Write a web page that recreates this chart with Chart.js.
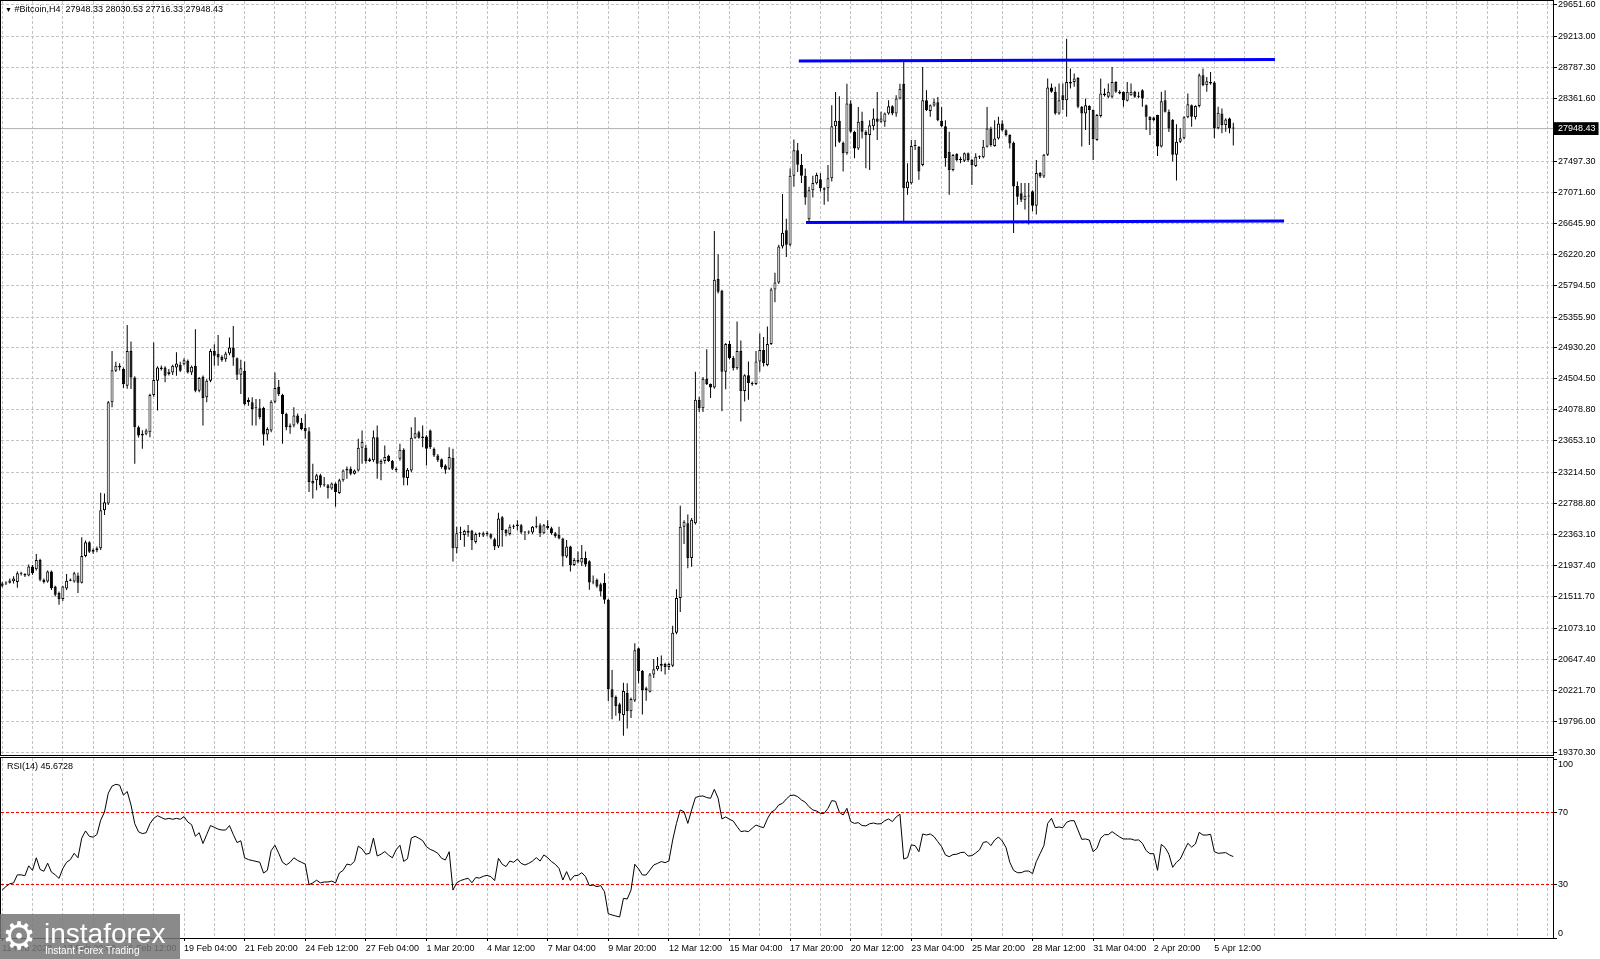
<!DOCTYPE html>
<html lang="en">
<head>
<meta charset="utf-8">
<title>#Bitcoin,H4</title>
<script src="https://cdn.jsdelivr.net/npm/chart.js@4.4.1/dist/chart.umd.min.js"></script>
<style>
    html, body { margin: 0; padding: 0; background: #fff; }
    body { position: relative; width: 1600px; height: 959px; overflow: hidden; font-family: 'Liberation Sans', Arial, sans-serif; }
    canvas { position: absolute; left: 0; }
    #priceChart { top: 0; }
    #rsiChart { top: 745px; }
    .pane-label { position: absolute; font-size: 9px; line-height: 10px; color: #000; white-space: pre; }
    .pane-label .arrow { font-size: 7px; }
    #symbolLabel { left: 5px; top: 4px; }
    #rsiLabel { left: 7px; top: 761px; }
    .logo { position: absolute; left: 0; top: 914px; width: 180px; height: 45px; background: rgba(118, 118, 118, 0.85); color: #fff; }
    .logo .gear { position: absolute; left: 2px; top: 0; font-family: 'DejaVu Sans', sans-serif; font-size: 38px; line-height: 45px; }
    .logo .name { position: absolute; left: 44px; top: 6px; font-size: 28px; line-height: 28px; }
    .logo .slogan { position: absolute; left: 45px; top: 32px; font-size: 10px; line-height: 10px; }
</style>
</head>
<body>
<canvas id="priceChart" width="1600" height="757"></canvas>
<canvas id="rsiChart" width="1600" height="214"></canvas>
<div id="symbolLabel" class="pane-label"></div>
<div id="rsiLabel" class="pane-label"></div>
<div class="logo"><span class="gear">⚙</span><span class="name">instaforex</span><span class="slogan">Instant Forex Trading</span></div>
<script>
const symbolName = '#Bitcoin,H4';

// H4 candles, first bar = 11 Feb 04:00
const openPrices = [
    21660,21690,21700,21720,21710,21830,21820,21800,21923,21886,
    22014,21740,21718,21855,21650,21560,21476,21620,21727,21718,
    21800,21700,22069,22256,22128,22150,22174,22699,22790,24183,
    24616,24685,24640,24411,24890,24525,23840,23726,23749,23772,
    24283,24479,24640,24662,24571,24594,24662,24700,24708,24753,
    24594,24685,24342,24534,24251,24479,24890,24850,24808,24776,
    24854,24936,24790,24561,24616,24215,24183,24100,24100,24105,
    23740,23795,24192,24397,24288,24023,23840,23863,24000,23900,
    23830,23785,23100,23110,23178,23050,23041,22996,23064,22936,
    23110,23246,23270,23200,23246,23557,23557,23374,23384,23703,
    23338,23375,23447,23374,23270,23406,23530,23141,23246,23694,
    23772,23690,23712,23795,23543,23452,23400,23315,23270,23420,
    22174,22380,22357,22389,22415,22260,22366,22350,22380,22366,
    22300,22200,22600,22425,22370,22470,22480,22490,22390,22390,
    22390,22470,22490,22380,22480,22450,22380,22360,22310,22060,
    22200,21946,22014,21980,22040,21996,21705,21740,21680,21700,
    21466,20234,20130,20030,19880,20183,19934,20080,20800,20485,
    20222,20200,20437,20509,20557,20581,20540,20557,21011,21490,
    22471,22520,22040,22520,24219,24100,24506,24434,24386,25880,
    25717,24602,24985,24793,24650,24889,24338,24554,24450,24434,
    24745,24903,24697,24985,25736,25832,26325,26550,26350,27300,
    27650,27450,27300,26700,27100,27197,27252,27129,27129,27265,
    27982,28055,27754,27608,28293,27905,27676,28055,27905,27859,
    27982,28087,28042,28042,28156,28256,28156,28361,28567,27129,
    27197,27708,27699,27448,28338,28192,28265,28311,28055,27982,
    27631,27380,27599,27517,27507,27608,27517,27434,27562,27553,
    27699,27950,27708,27813,28019,27927,27859,27754,27160,27060,
    26970,27025,27085,26888,27336,27290,27587,28513,28454,28157,
    28408,28340,28591,28591,28646,28249,28157,28258,28203,27792,
    28121,28431,28386,28386,28591,28454,28454,28331,28408,28454,
    28386,28477,28271,28112,28100,28134,27701,28340,28180,28066,
    27587,27769,27815,28103,28271,28103,28258,28682,28545,28568,
    28582,27952,28157,27998,28089,27948.33
];
const highPrices = [
    21710,21720,21760,21790,21855,21850,21830,21950,21946,22097,
    22030,21760,21870,21870,21660,21580,21660,21820,21760,21850,
    21840,22325,22280,22270,22170,22200,22940,22927,24200,24890,
    24740,24720,24660,25246,25018,24540,23860,23800,23820,24300,
    25004,24680,24690,24680,24640,24700,24870,24740,24790,24770,
    24690,25187,24530,24550,24500,24920,24980,25109,24830,24880,
    25073,25232,24800,24767,24744,24250,24251,24228,24228,24120,
    23840,24210,24594,24489,24300,24040,23890,24114,24030,23968,
    24023,23840,23338,23200,23200,23155,23060,23080,23080,23130,
    23260,23300,23300,23260,23680,23794,23600,23420,23794,23863,
    23400,23588,23460,23390,23290,23612,23550,23280,23840,23977,
    23790,23863,23730,23810,23560,23470,23410,23330,23566,23543,
    22471,22471,22430,22494,22430,22390,22390,22403,22410,22380,
    22320,22662,22620,22440,22500,22500,22560,22510,22410,22420,
    22480,22610,22520,22510,22560,22470,22400,22470,22320,22290,
    22210,22040,22130,22220,22130,22010,21800,21760,21700,21832,
    21480,20500,20150,20050,20325,20317,20120,20868,20810,20500,
    20270,20460,20652,20677,20700,20600,20600,21107,21610,22759,
    22560,22640,22590,24602,24260,24530,24913,24440,26540,26220,
    25730,25000,25030,24820,25296,25033,24570,24745,24470,24889,
    25128,25080,25224,25760,25966,26350,27050,26708,27400,27800,
    27750,27600,27400,27150,27300,27340,27334,27140,27448,28270,
    28452,28393,27770,28567,28338,27920,28247,28179,27927,28064,
    28224,28452,28179,28170,28338,28270,28407,28567,28863,27471,
    27791,27791,27710,28795,28475,28280,28361,28384,28247,28064,
    27905,27600,27610,27560,27620,27620,27530,27608,27580,27791,
    28247,27973,28064,28110,28064,27940,27870,27770,27220,27200,
    27199,27199,27100,27518,27350,27600,28637,28568,28523,28568,
    28568,29185,28774,28705,28660,28260,28363,28271,28210,28150,
    28637,28500,28568,28796,28600,28477,28460,28591,28568,28470,
    28454,28490,28280,28120,28110,28140,28454,28477,28210,28080,
    28007,27952,28120,28431,28280,28270,28705,28774,28660,28728,
    28600,28249,28226,28090,28100,28030.53
];
const lowPrices = [
    21640,21670,21690,21690,21630,21800,21780,21790,21810,21870,
    21720,21690,21700,21600,21510,21398,21450,21600,21720,21700,
    21560,21690,22050,22110,22100,22120,22150,22631,22770,24114,
    24600,24620,24380,24370,24365,23338,23700,23543,23730,23703,
    24260,24069,24620,24457,24550,24560,24548,24600,24690,24580,
    24560,24320,24320,23863,24183,24460,24685,24685,24740,24740,
    24830,24685,24489,24297,24140,24137,23863,23863,23950,23590,
    23658,23772,24170,24270,23612,23800,23749,23840,23880,23800,
    23680,22950,22859,22973,23010,23020,22859,22980,22745,22920,
    23090,23130,23180,23190,23230,23338,23340,23360,23360,23132,
    23110,23338,23360,23250,23220,23380,23040,23040,23220,23680,
    23680,23566,23315,23540,23430,23360,23270,23200,23250,21992,
    22106,22288,22197,22334,22151,22240,22330,22330,22340,22300,
    22151,22180,22197,22340,22350,22440,22420,22370,22288,22370,
    22370,22450,22330,22370,22430,22360,22320,22300,21923,22040,
    21855,21930,21970,21930,21920,21603,21680,21630,21510,21412,
    20074,19823,19869,19800,19595,19695,19840,20060,20317,19887,
    20078,20190,20390,20490,20480,20437,20500,20540,20990,21298,
    22232,21900,21920,22500,24050,24051,24420,24243,24370,25680,
    24061,24362,24770,24620,24630,23917,24195,24219,24410,24420,
    24602,24674,24680,24970,25559,25810,26300,26181,26330,27150,
    27350,27200,26900,26650,27000,27180,27083,26900,26946,27220,
    27699,27750,27357,27590,27890,27539,27654,27813,27402,27380,
    27927,27791,28030,27973,28140,28133,28110,28350,26672,27037,
    27180,27654,27243,27430,28190,28110,28250,28050,27970,27425,
    27037,27360,27500,27470,27490,27494,27174,27420,27530,27540,
    27690,27700,27700,27800,27910,27840,27676,26512,26900,26940,
    26834,26628,26811,26765,27270,27270,27570,28440,28140,28140,
    28203,28112,28500,28523,28230,27701,27929,27724,27518,27780,
    28100,28390,28370,28370,28440,28420,28249,28320,28400,28370,
    28370,28249,27929,27861,28050,27573,27690,28170,27900,27495,
    27235,27750,27800,28090,27975,28075,28240,28530,28454,28550,
    27815,27940,27884,27906,27884,27716.33
];
const closePrices = [
    21690,21700,21730,21760,21830,21823,21800,21923,21830,22014,
    21740,21710,21855,21626,21535,21476,21649,21727,21745,21832,
    21700,22069,22256,22128,22150,22174,22699,22809,24183,24625,
    24685,24660,24434,24890,24525,23840,23726,23749,23795,24283,
    24488,24662,24662,24548,24603,24685,24717,24616,24762,24594,
    24671,24342,24516,24242,24479,24890,24822,24799,24762,24854,
    24936,24799,24561,24653,24160,24183,24091,24110,23977,23740,
    23817,24192,24379,24297,24023,23840,23863,24000,23900,23817,
    23785,23087,23064,23178,23041,23041,23000,23064,22950,23110,
    23246,23270,23200,23246,23557,23635,23374,23400,23703,23338,
    23375,23429,23374,23270,23250,23530,23146,23256,23694,23758,
    23694,23712,23543,23566,23452,23384,23292,23256,23430,22174,
    22380,22385,22411,22415,22288,22370,22372,22380,22370,22320,
    22200,22585,22425,22380,22470,22480,22500,22390,22395,22400,
    22470,22480,22380,22490,22450,22380,22340,22310,22060,22200,
    21946,22014,21990,22040,21950,21705,21712,21650,21580,21466,
    20234,20120,20005,19900,20211,19934,20100,20772,20485,20222,
    20250,20437,20509,20557,20581,20540,20581,21011,21490,22471,
    22540,22040,22567,24219,24100,24506,24434,24386,25870,25703,
    24602,24985,24793,24650,24889,24338,24554,24450,24430,24745,
    24903,24721,24985,25736,25832,26325,26517,26350,27300,27650,
    27450,27300,27000,27100,27200,27311,27129,27106,27265,27982,
    28055,27768,27608,28293,27905,27676,28042,27905,27860,27996,
    28087,28042,28087,28156,28256,28156,28361,28498,27129,27220,
    27708,27722,27357,28338,28201,28270,28311,28064,27982,27539,
    27380,27585,27517,27525,27608,27517,27448,27562,27553,27699,
    27950,27722,27813,28019,27927,27859,27745,27151,27010,26970,
    27025,27013,26888,27336,27290,27587,28513,28454,28157,28340,
    28340,28591,28568,28637,28249,28157,28271,28203,27801,28134,
    28431,28408,28454,28591,28454,28431,28340,28454,28454,28386,
    28395,28363,28112,28066,28066,27701,28326,28180,27950,27587,
    27769,27815,28103,28285,28112,28258,28682,28545,28600,28591,
    27952,28166,27998,28075,27952,27948.43
];
// RSI(14) per bar
const rsiValues = [
    27,29,30.5,31,35.5,35.5,35,40.5,38,45,
    38.5,37.5,42,37,35.5,33.5,39,42.5,44,47.5,
    45,56,60,57,56.5,58,66,70.5,81,85,
    86,85.5,80,82,74.5,64,59.5,58.5,59,64,
    67,68.5,67.5,66.5,67,66.5,67,66.5,68,65,
    63.5,57,59,53,58,63,62,61,60.5,60.5,
    63,58,53.5,54.5,45,44,43.5,43,42.5,36.5,
    38,49,52,47.5,42.5,41,42.5,45,43.5,42.5,
    41.5,30,31,32.5,31,31.5,31.5,32,31,36.5,
    38,41.5,41,43,51.5,50,47,47.5,56,46,
    47,48.5,46.5,45,49.5,52,43,44.5,56,57,
    55.9,54.6,51.2,49.7,48.8,47.5,44.7,43.8,48.4,27.0,
    31.1,32.3,33.0,33.6,31.1,34.0,33.7,34.7,35.2,34.5,
    32.3,44.7,41.4,40.1,43.2,42.5,44.3,41.9,41.0,41.9,
    43.2,45.1,43.2,46.6,45.1,42.9,41.4,39.1,32.6,37.3,
    32.4,35.0,35.2,36.7,34.5,29.5,29.8,28.9,29.5,26.1,
    13.8,13.1,12.5,12.0,22.4,22.0,27.0,41.4,38.8,35.4,
    35.4,38.2,41.0,41.9,42.9,42.3,43.2,54.9,64.2,71.7,
    70.7,64.2,71.7,78.6,79.3,79.5,78.6,78.2,83.2,78.2,
    66.7,67.8,66.5,65.5,62.4,59.6,60.0,59.6,61.5,63.3,
    62.4,61.8,66.7,70.4,71.7,74.5,75.4,77.8,79.7,80.0,
    79.1,77.3,76.0,73.5,71.7,71.1,69.8,69.8,72.6,76.9,
    76.5,70.4,68.9,72.6,65.2,64.2,64.6,63.0,62.8,64.0,
    64.4,63.9,64.0,65.7,66.7,65.2,67.8,69.3,44.3,45.1,
    52.2,51.8,48.4,58.3,57.7,58.3,56.8,54.0,51.2,46.6,
    45.6,46.8,47.0,47.9,48.1,46.0,46.2,47.7,49.4,53.6,
    54.0,51.8,54.9,56.6,54.4,50.7,42.5,38.0,36.7,36.7,
    37.6,37.6,36.2,42.9,47.3,51.8,64.2,67.0,61.8,62.2,
    61.8,64.8,65.7,65.7,60.5,55.3,55.5,54.9,48.4,50.3,
    55.9,57.9,57.9,59.6,58.1,56.6,55.5,55.5,55.5,54.8,
    55.0,53.1,49.0,47.3,47.3,38.0,52.5,50.7,47.0,39.7,
    42.5,44.3,48.8,53.1,51.0,52.7,59.2,57.7,57.7,58.1,
    48.4,47.5,47.7,47.9,46.6,45.6728
];

const priceTicks = [29651.60, 29213.00, 28787.30, 28361.60, 27497.30, 27071.60, 26645.90, 26220.20,
    25794.50, 25355.90, 24930.20, 24504.50, 24078.80, 23653.10, 23214.50, 22788.80, 22363.10,
    21937.40, 21511.70, 21073.10, 20647.40, 20221.70, 19796.00, 19370.30];
const rsiLevels = [100, 70, 30, 0];
const timeTickIndex = [0, 16, 32, 48, 64, 80, 96, 112, 128, 144, 160, 176, 192, 208, 224, 240, 256, 272, 288, 304, 320];
const timeTickLabels = ['11 Feb 2023', '13 Feb 20:00', '16 Feb 12:00', '19 Feb 04:00', '21 Feb 20:00', '24 Feb 12:00',
    '27 Feb 04:00', '1 Mar 20:00', '4 Mar 12:00', '7 Mar 04:00', '9 Mar 20:00', '12 Mar 12:00', '15 Mar 04:00',
    '17 Mar 20:00', '20 Mar 12:00', '23 Mar 04:00', '25 Mar 20:00', '28 Mar 12:00', '31 Mar 04:00', '2 Apr 20:00', '5 Apr 12:00'];

// hand drawn channel (bar index, price)
const channelTopX = [210.3, 336.0];
const channelTopY = [28880, 28898];
const channelBottomX = [212.2, 338.4];
const channelBottomY = [26658, 26678];

// visible window of the terminal
const X_MIN = -0.317, X_MAX = 409.4;
const PRICE_MIN = 19330.4, PRICE_MAX = 29703.9;
const RSI_MIN = 0.26, RSI_MAX = 100.68;

Chart.defaults.font.family = "'Liberation Sans', Arial, sans-serif";
Chart.defaults.font.size = 9;
Chart.defaults.color = '#000';

const last = closePrices.length - 1;
const bid = closePrices[last];

document.getElementById('symbolLabel').innerHTML = '<span class="arrow">▼</span> ' + symbolName + '  ' +
    [openPrices[last], highPrices[last], lowPrices[last], closePrices[last]].map(v => v.toFixed(2)).join(' ');
document.getElementById('rsiLabel').textContent = 'RSI(14) ' + rsiValues[last].toFixed(4);

const gridIndex = [];
for (let v = 0; v <= X_MAX; v += 8) gridIndex.push(v);

const wickData = highPrices.map((h, i) => ({ x: i, y: [lowPrices[i], h] }));
const bodyData = openPrices.map((o, i) => ({ x: i, y: [o, closePrices[i]] }));
const bodyColors = openPrices.map((o, i) => closePrices[i] >= o ? '#ffffff' : '#000000');
const toPoints = (xs, ys) => xs.map((x, i) => ({ x: x, y: ys[i] }));

// keep the plot area fixed, labels may overhang
const noPadding = axis => {
    axis.paddingTop = 0;
    axis.paddingBottom = 0;
    axis.paddingLeft = 0;
    axis.paddingRight = 0;
};

// black frame around each pane
const paneFrame = {
    id: 'paneFrame',
    afterDraw(chart) {
        const a = chart.chartArea;
        const ctx = chart.ctx;
        ctx.save();
        ctx.strokeStyle = '#000';
        ctx.lineWidth = 1;
        ctx.strokeRect(a.left - 0.5, a.top - 0.5, a.right - a.left + 1, a.bottom - a.top + 1);
        ctx.restore();
    }
};

const gridColor = '#c4c4c4';

new Chart(document.getElementById('priceChart'), {
    type: 'bar',
    data: {
        datasets: [
            {
                type: 'line',
                data: [{ x: X_MIN, y: bid }, { x: X_MAX, y: bid }],
                borderColor: '#b0b0b0',
                borderWidth: 1,
                pointRadius: 0,
                order: 4
            },
            {
                data: wickData,
                backgroundColor: '#000',
                barThickness: 1,
                grouped: false,
                inflateAmount: 0,
                order: 3
            },
            {
                data: bodyData,
                backgroundColor: bodyColors,
                borderColor: '#000',
                borderWidth: 1,
                borderSkipped: false,
                barThickness: 3,
                minBarLength: 1,
                grouped: false,
                inflateAmount: 0,
                order: 2
            },
            {
                type: 'line',
                data: toPoints(channelTopX, channelTopY),
                borderColor: '#0000ff',
                borderWidth: 3,
                pointRadius: 0,
                order: 1
            },
            {
                type: 'line',
                data: toPoints(channelBottomX, channelBottomY),
                borderColor: '#0000ff',
                borderWidth: 3,
                pointRadius: 0,
                order: 1
            }
        ]
    },
    options: {
        responsive: false,
        animation: false,
        devicePixelRatio: 1,
        events: [],
        layout: { padding: { left: 1, top: 1, right: 0, bottom: 2 } },
        plugins: { legend: { display: false }, tooltip: { enabled: false } },
        scales: {
            x: {
                type: 'linear',
                min: X_MIN,
                max: X_MAX,
                offset: false,
                grid: { offset: false, color: gridColor, drawTicks: false },
                border: { display: false, dash: [3, 2] },
                ticks: { display: false },
                afterBuildTicks: axis => { axis.ticks = gridIndex.map(v => ({ value: v })); },
                afterFit: axis => { axis.height = 0; noPadding(axis); }
            },
            y: {
                type: 'linear',
                position: 'right',
                min: PRICE_MIN,
                max: PRICE_MAX,
                grid: {
                    color: ctx => ctx.tick && ctx.tick.value === bid ? 'rgba(0,0,0,0)' : gridColor,
                    tickLength: 4,
                    tickColor: '#000',
                    tickBorderDash: []
                },
                border: { display: true, color: '#000', width: 1, dash: [3, 2] },
                ticks: {
                    autoSkip: false,
                    padding: 1,
                    color: ctx => ctx.tick && ctx.tick.value === bid ? '#fff' : '#000',
                    showLabelBackdrop: ctx => !!(ctx.tick && ctx.tick.value === bid),
                    backdropColor: '#000',
                    backdropPadding: { top: 1, bottom: 1, left: 4, right: 3 },
                    callback: v => Number(v).toFixed(2)
                },
                afterBuildTicks: axis => { axis.ticks = priceTicks.concat([bid]).map(v => ({ value: v })); },
                afterFit: axis => { axis.width = 47; noPadding(axis); }
            }
        }
    },
    plugins: [paneFrame]
});

new Chart(document.getElementById('rsiChart'), {
    type: 'line',
    data: {
        datasets: [{
            data: rsiValues.map((v, i) => ({ x: i, y: v })),
            borderColor: '#000',
            borderWidth: 1,
            pointRadius: 0,
            tension: 0
        }]
    },
    options: {
        responsive: false,
        animation: false,
        devicePixelRatio: 1,
        events: [],
        layout: { padding: { left: 1, top: 13, right: 0, bottom: 0 } },
        plugins: { legend: { display: false }, tooltip: { enabled: false } },
        scales: {
            x: {
                type: 'linear',
                min: X_MIN,
                max: X_MAX,
                offset: false,
                grid: {
                    offset: false,
                    color: gridColor,
                    tickLength: 3,
                    tickColor: ctx => ctx.tick && timeTickIndex.includes(ctx.tick.value) ? '#000' : 'rgba(0,0,0,0)',
                    tickBorderDash: []
                },
                border: { display: true, color: '#000', width: 1, dash: [3, 2] },
                ticks: {
                    autoSkip: false,
                    maxRotation: 0,
                    minRotation: 0,
                    align: 'start',
                    padding: 2,
                    callback: v => {
                        const k = timeTickIndex.indexOf(v);
                        return k >= 0 ? timeTickLabels[k] : '';
                    }
                },
                afterBuildTicks: axis => { axis.ticks = gridIndex.map(v => ({ value: v })); },
                afterFit: axis => { axis.height = 21; noPadding(axis); }
            },
            y: {
                type: 'linear',
                position: 'right',
                min: RSI_MIN,
                max: RSI_MAX,
                grid: {
                    color: ctx => ctx.tick && (ctx.tick.value === 70 || ctx.tick.value === 30) ? '#ff0000' : 'rgba(0,0,0,0)',
                    tickLength: 4,
                    tickColor: '#000',
                    tickBorderDash: []
                },
                border: { display: true, color: '#000', width: 1, dash: [3, 2] },
                ticks: {
                    autoSkip: false,
                    padding: 1,
                    // terminal keeps the edge labels inside the pane
                    callback: v => v === 100 ? ['', '100'] : v === 0 ? ['0', ''] : String(v)
                },
                afterBuildTicks: axis => { axis.ticks = rsiLevels.map(v => ({ value: v })); },
                afterFit: axis => { axis.width = 47; noPadding(axis); }
            }
        }
    },
    plugins: [paneFrame]
});
</script>
</body>
</html>
